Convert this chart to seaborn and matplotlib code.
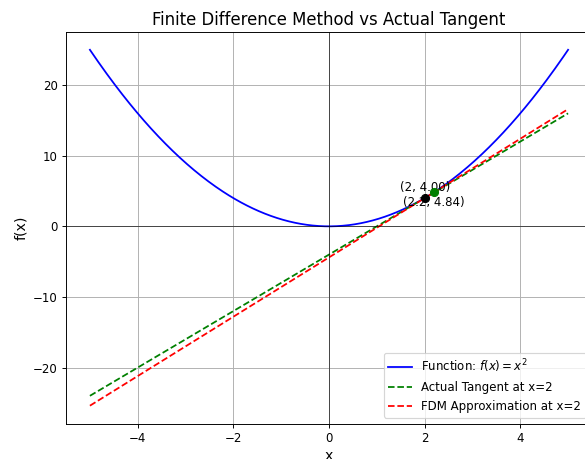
import numpy as np
import matplotlib
matplotlib.use("Agg")
import matplotlib.pyplot as plt
import seaborn as sns

# Parameters of the chart
x_min, x_max = -5, 5
x0 = 2        # point of tangency
h = 0.2       # finite difference step

x = np.linspace(x_min, x_max, 400)
f_vals = x ** 2
true_slope = 2 * x0
fdm_slope = ((x0 + h) ** 2 - x0 ** 2) / h
tangent_vals = x0 ** 2 + true_slope * (x - x0)
fdm_vals = x0 ** 2 + fdm_slope * (x - x0)

pt_x = [x0, x0 + h]
pt_y = [x0 ** 2, (x0 + h) ** 2]
pt_colors = ["black", "green"]

DPI = 85
fig = plt.figure(figsize=(585 / DPI, 459 / DPI), dpi=DPI)
ax = fig.add_axes([66 / 585, (459 - 423.5) / 459, 526 / 585, 391.5 / 459])

sns.lineplot(x=x, y=f_vals, ax=ax, color="blue", label=r"Function: $f(x) = x^2$")
sns.lineplot(x=x, y=tangent_vals, ax=ax, color="green", linestyle="--",
             label=f"Actual Tangent at x={x0}")
sns.lineplot(x=x, y=fdm_vals, ax=ax, color="red", linestyle="--",
             label=f"FDM Approximation at x={x0}")

for px, py, c in zip(pt_x, pt_y, pt_colors):
    ax.scatter([px], [py], color=c, s=45, zorder=5)

ax.text(pt_x[0], pt_y[0] + 0.6, f"({pt_x[0]}, {pt_y[0]:.2f})", ha="center", va="bottom", fontsize=10)
ax.text(pt_x[1], pt_y[1] - 0.6, f"({pt_x[1]:.1f}, {pt_y[1]:.2f})", ha="center", va="top", fontsize=10)

ax.axhline(0, color="black", linewidth=0.5)
ax.axvline(0, color="black", linewidth=0.5)
ax.grid(True)
ax.set_title("Finite Difference Method vs Actual Tangent", fontsize=14)
ax.set_xlabel("x", fontsize=12)
ax.set_ylabel("f(x)", fontsize=12)
ax.legend(loc="lower right")

fig.savefig("out.png", dpi=DPI)
